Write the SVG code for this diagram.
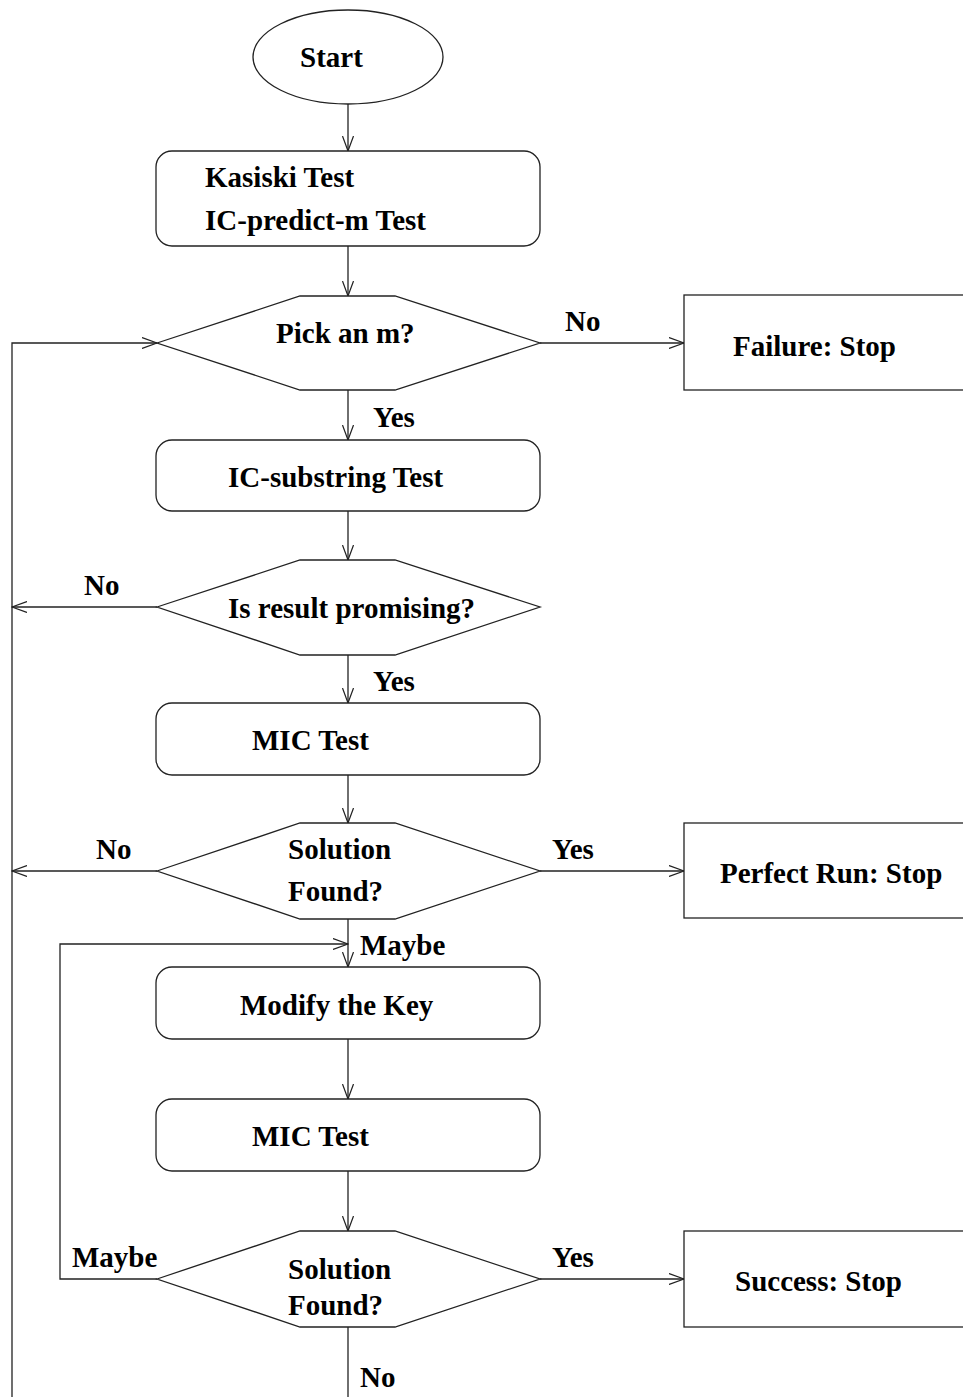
<svg xmlns="http://www.w3.org/2000/svg" width="963" height="1397" viewBox="0 0 963 1397">
<defs>
<style>
.s{fill:#fff;stroke:#222;stroke-width:1.3}
.c{fill:none;stroke:#222;stroke-width:1.3}
text{font-family:"Liberation Serif","Times New Roman",serif;font-weight:bold;font-size:29px;fill:#000}
</style>
<marker id="a" markerWidth="16" markerHeight="12" refX="15" refY="6" orient="auto" markerUnits="userSpaceOnUse">
<path d="M0,0.5 L15,6 L0,11.5" fill="none" stroke="#222" stroke-width="1.2"/>
</marker>
</defs>
<rect width="963" height="1397" fill="#fff"/>
<g id="connectors">
<path class="c" d="M348,104 V151" marker-end="url(#a)"/>
<path class="c" d="M348,246 V296" marker-end="url(#a)"/>
<path class="c" d="M540,343 H684" marker-end="url(#a)"/>
<path class="c" d="M348,390 V440" marker-end="url(#a)"/>
<path class="c" d="M348,511 V560" marker-end="url(#a)"/>
<path class="c" d="M157,607 H12" marker-end="url(#a)"/>
<path class="c" d="M348,655 V703" marker-end="url(#a)"/>
<path class="c" d="M348,775 V823" marker-end="url(#a)"/>
<path class="c" d="M157,871 H12" marker-end="url(#a)"/>
<path class="c" d="M540,871 H684" marker-end="url(#a)"/>
<path class="c" d="M348,919 V967" marker-end="url(#a)"/>
<path class="c" d="M348,1039 V1099" marker-end="url(#a)"/>
<path class="c" d="M348,1171 V1231" marker-end="url(#a)"/>
<path class="c" d="M540,1279 H684" marker-end="url(#a)"/>
<path class="c" d="M157,1279 H60 V944 H348" marker-end="url(#a)"/>
<path class="c" d="M348,1327 V1397"/>
<path class="c" d="M12,1397 V343 H157" marker-end="url(#a)"/>
<text x="565" y="331">No</text>
<text x="373" y="427">Yes</text>
<text x="84" y="595">No</text>
<text x="373" y="691">Yes</text>
<text x="96" y="859">No</text>
<text x="552" y="859">Yes</text>
<text x="360" y="955">Maybe</text>
<text x="72" y="1267">Maybe</text>
<text x="552" y="1267">Yes</text>
<text x="360" y="1387">No</text>
</g>
<g id="start">
<ellipse class="s" cx="348" cy="57" rx="95" ry="47"/>
<text x="300" y="67">Start</text>
</g>
<g id="kasiski">
<rect class="s" x="156" y="151" width="384" height="95" rx="16"/>
<text x="205" y="187">Kasiski Test</text>
<text x="205" y="230">IC-predict-m Test</text>
</g>
<g id="pick">
<polygon class="s" points="157,343 300,296 395,296 540,343 395,390 300,390"/>
<text x="276" y="343">Pick an m?</text>
</g>
<g id="failure">
<rect class="s" x="684" y="295" width="290" height="95"/>
<text x="733" y="356">Failure: Stop</text>
</g>
<g id="icsub">
<rect class="s" x="156" y="440" width="384" height="71" rx="16"/>
<text x="228" y="487">IC-substring Test</text>
</g>
<g id="promising">
<polygon class="s" points="157,607 300,560 395,560 540,607 395,655 300,655"/>
<text x="228" y="618">Is result promising?</text>
</g>
<g id="mic1">
<rect class="s" x="156" y="703" width="384" height="72" rx="16"/>
<text x="252" y="750">MIC Test</text>
</g>
<g id="sol1">
<polygon class="s" points="157,871 300,823 395,823 540,871 395,919 300,919"/>
<text x="288" y="859">Solution</text>
<text x="288" y="901">Found?</text>
</g>
<g id="perfect">
<rect class="s" x="684" y="823" width="290" height="95"/>
<text x="720" y="883">Perfect Run: Stop</text>
</g>
<g id="modify">
<rect class="s" x="156" y="967" width="384" height="72" rx="16"/>
<text x="240" y="1015">Modify the Key</text>
</g>
<g id="mic2">
<rect class="s" x="156" y="1099" width="384" height="72" rx="16"/>
<text x="252" y="1146">MIC Test</text>
</g>
<g id="sol2">
<polygon class="s" points="157,1279 300,1231 395,1231 540,1279 395,1327 300,1327"/>
<text x="288" y="1279">Solution</text>
<text x="288" y="1315">Found?</text>
</g>
<g id="success">
<rect class="s" x="684" y="1231" width="290" height="96"/>
<text x="735" y="1291">Success: Stop</text>
</g>
</svg>
